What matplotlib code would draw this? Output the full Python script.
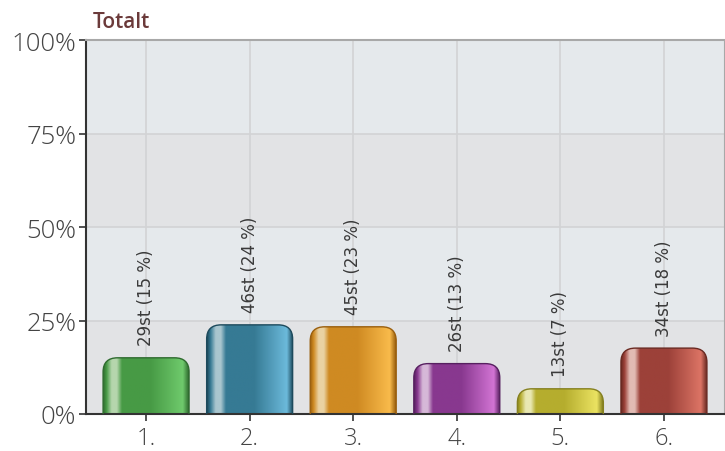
import numpy as np
import matplotlib
matplotlib.use("Agg")
import matplotlib.pyplot as plt
from matplotlib.patches import FancyBboxPatch
from matplotlib.colors import LinearSegmentedColormap

# data
categories = ["1.", "2.", "3.", "4.", "5.", "6."]
counts = [29, 46, 45, 26, 13, 34]
pct_labels = [15, 24, 23, 13, 7, 18]
yticks = [0, 25, 50, 75, 100]
ytick_labels = ["0%", "25%", "50%", "75%", "100%"]

# (edge, mid, highlight, right) per bar
bar_colors = [
    ("#2f6b2f", "#479a45", "#b5d6ad", "#6fca6c"),
    ("#1d4a5c", "#367a94", "#a9c6cf", "#6cbadb"),
    ("#9a5f0e", "#cf8a22", "#ead2a2", "#f9bb4b"),
    ("#572060", "#88388f", "#d6b8d8", "#d274d4"),
    ("#858020", "#b5ad2e", "#e9e8b2", "#ebe362"),
    ("#6a2a22", "#9c4139", "#e2bbb4", "#dc7465"),
]

total = sum(counts)
values = [c / total * 100 for c in counts]

plt.rcParams["font.family"] = ["Open Sans", "DejaVu Sans"]

fig = plt.figure(figsize=(7.25, 4.52), dpi=100)
ax = fig.add_axes([86 / 725, 37 / 452, 638 / 725, 374 / 452])

x = np.arange(len(categories))
ax.set_xlim(-0.58, len(categories) - 0.42)
ax.set_ylim(0, 100)

# background bands
band_cols = ["#e2e3e5", "#e5e9ec", "#e2e3e5", "#e5e9ec"]
for i in range(4):
    ax.axhspan(i * 25, (i + 1) * 25, color=band_cols[i], zorder=0, lw=0)

for v in [25, 50, 75]:
    ax.axhline(v, color="#d2d3d5", lw=1.2, zorder=1)
for xi in x:
    ax.axvline(xi, color="#d2d3d5", lw=1.2, zorder=1)

width = 0.83
stops = [0.0, 0.04, 0.10, 0.16, 0.22, 0.55, 0.93, 1.0]
for xi, val, (edge, mid, hi, right) in zip(x, values, bar_colors):
    cmap = LinearSegmentedColormap.from_list(
        "b", list(zip(stops, [edge, mid, hi, hi, mid, mid, right, edge])))
    grad = np.linspace(0, 1, 256).reshape(1, -1)
    x0 = xi - width / 2
    patch = FancyBboxPatch((x0, -10), width, val + 10,
                           boxstyle="round,pad=0,rounding_size=0.14",
                           mutation_aspect=27, facecolor="none",
                           edgecolor=edge, lw=1.0, zorder=3)
    ax.add_patch(patch)
    im = ax.imshow(grad, cmap=cmap, extent=(x0, x0 + width, 0, val),
                   aspect="auto", zorder=2, interpolation="bilinear")
    im.set_clip_path(patch)

for xi, val, c, p in zip(x, values, counts, pct_labels):
    ax.annotate(f"{c}st ({p} %)", (xi, val), xytext=(0, 9),
                textcoords="offset points", rotation=90, ha="center",
                va="bottom", fontsize=12, color="#3a3a3a",
                family="DejaVu Sans", zorder=4)

ax.set_xticks(x)
ax.set_xticklabels(categories)
ax.set_yticks(yticks)
ax.set_yticklabels(ytick_labels)
ax.tick_params(axis="y", labelsize=18.5)
ax.tick_params(axis="x", labelsize=17)
ax.tick_params(axis="both", colors="#333333", length=5, width=1.2, pad=2)
ax.tick_params(axis="both", labelcolor="#444444")
ax.tick_params(axis="x", pad=4)
for lbl in ax.get_xticklabels() + ax.get_yticklabels():
    lbl.set_fontweight("light")

ax.spines["left"].set_color("#333333")
ax.spines["bottom"].set_color("#333333")
ax.spines["left"].set_linewidth(1.5)
ax.spines["bottom"].set_linewidth(1.5)
ax.spines["top"].set_color("#a8a8a8")
ax.spines["right"].set_color("#a8a8a8")
ax.spines["top"].set_linewidth(1.5)

fig.text(93 / 725, 1 - 28 / 452, "Totalt", fontsize=15, fontweight="semibold",
         color="#6b3a3a", ha="left", va="baseline")

fig.savefig("out.png", dpi=100)
